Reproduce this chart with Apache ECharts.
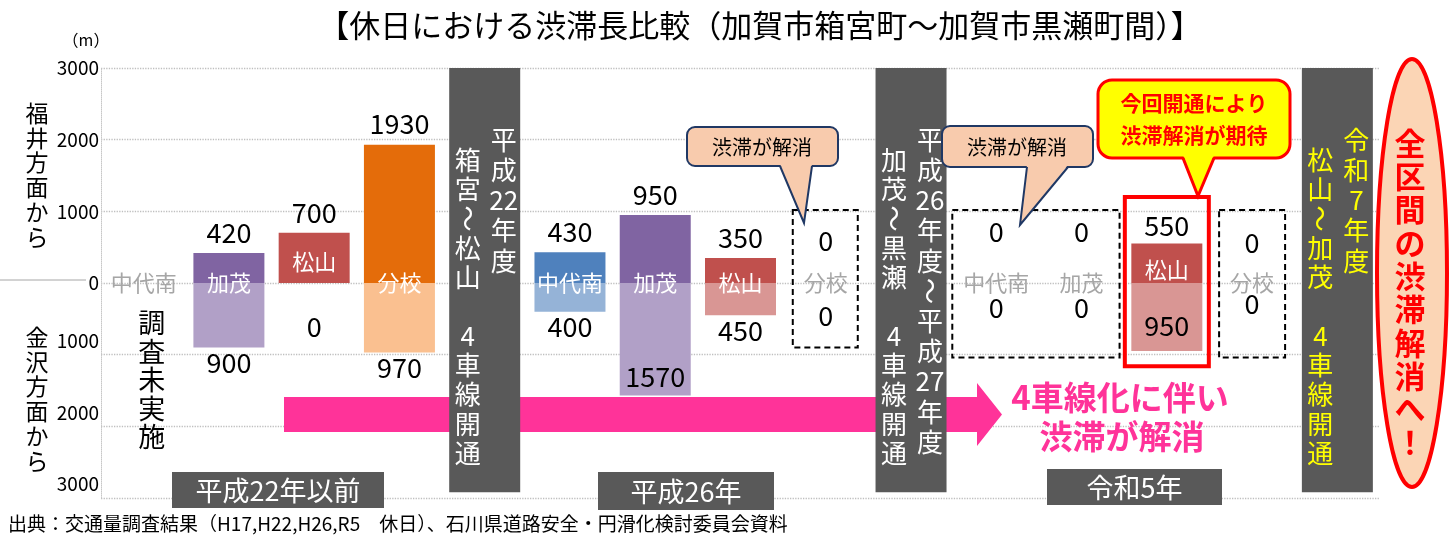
<!DOCTYPE html>
<html><head><meta charset="utf-8">
<script src="https://cdn.jsdelivr.net/npm/echarts@6/dist/echarts.min.js"></script>
<style>html,body{margin:0;padding:0;background:#fff}#c{width:1452px;height:540px}</style>
</head><body><div id="c"></div>
<script>
// ---- data ----
const periods = ['平成22年以前', '平成26年', '令和5年'];
const sites = ['中代南', '加茂', '松山', '分校'];
// 福井方面から (upwards), m
const fukuiH22 = [null, 420, 700, 1930];
const fukuiH26 = [430, 950, 350, 0];
const fukuiR5  = [0, 0, 550, 0];
// 金沢方面から (downwards), m
const kanazawaH22 = [null, 900, 0, 970];
const kanazawaH26 = [400, 1570, 450, 0];
const kanazawaR5  = [0, 0, 950, 0];
// 4車線開通 bands
const openingYears = ['平成22年度', '平成26年度～平成27年度', '令和7年度'];
const openingSections = ['箱宮～松山', '加茂～黒瀬', '松山～加茂'];
const openingNote = '4車線開通';
const yMax = 3000, yStep = 1000;
const bandTop = 3000, bandBottom = -2920;

const titleText = '【休日における渋滞長比較（加賀市箱宮町～加賀市黒瀬町間）】';
const footerText = '出典：交通量調査結果（H17,H22,H26,R5　休日）、石川県道路安全・円滑化検討委員会資料';

// ---- styles ----
const FONT = "'Noto Sans CJK JP','Noto Sans',sans-serif";
const upColors = ['#4F81BD', '#8064A2', '#C0504D', '#E46C0A'];
const downColors = ['#95B3D7', '#B1A0C7', '#D99694', '#FAC090'];
const BAND = '#595959';
const PINK = '#FF3399';
const upZeroGap = {8: 29, 10: 38, 11: 38, 13: 27};
const downZeroGap = {2: 30, 8: 19, 10: 11, 11: 11, 13: 7};
const downInside = {6: 5, 12: 12};
const upGap = {12: 4};
const nameShift = {2: -21, 12: -13};

const fukui = [fukuiH22, fukuiH26, fukuiR5];
const kanazawa = [kanazawaH22, kanazawaH26, kanazawaR5];

const cats = [], upData = [], downData = [], nameData = [], bandUpData = [], bandDownData = [], bandSlots = [];
periods.forEach((p, pi) => {
  sites.forEach((s, si) => {
    const idx = cats.length;
    cats.push(p + '／' + s);
    const u = fukui[pi][si], d = kanazawa[pi][si];
    if (u == null) upData.push('-');
    else upData.push({value: u, itemStyle: {color: upColors[si]},
      label: {position: 'top', distance: u === 0 ? upZeroGap[idx] : (upGap[idx] != null ? upGap[idx] : 7)}});
    if (d == null) downData.push('-');
    else downData.push({value: -d, itemStyle: {color: downColors[si]},
      label: downInside[idx] != null ? {position: 'insideBottom', distance: downInside[idx]}
                                    : {position: 'bottom', distance: d === 0 ? downZeroGap[idx] : 2}});
    const active = (u || 0) > 0 || (d || 0) > 0;
    nameData.push({value: 0, name: s, label: {color: active ? '#FFFFFF' : '#A6A6A6', offset: [0, nameShift[idx] || 0]}});
    bandUpData.push('-'); bandDownData.push('-');
  });
  bandSlots.push(cats.length);
  cats.push('開通' + (pi + 1));
  upData.push('-'); downData.push('-'); nameData.push('-');
  bandUpData.push(bandTop); bandDownData.push(bandBottom);
});

const numLabel = {show: true, color: '#000', fontSize: 27, fontFamily: FONT};
const chart = echarts.init(document.getElementById('c'));
chart.setOption({
  animation: false,
  backgroundColor: '#fff',
  grid: {left: 101, right: 72, top: 68, bottom: 42},
  xAxis: {type: 'category', data: cats, boundaryGap: true,
    axisLabel: {show: false}, axisTick: {show: false}, axisLine: {show: false}, splitLine: {show: false}},
  yAxis: {type: 'value', min: -yMax, max: yMax, interval: yStep,
    axisLine: {show: true, lineStyle: {color: '#C8C8C8', type: 'dotted'}},
    axisTick: {show: false},
    splitLine: {lineStyle: {color: '#BFBFBF', type: 'dotted', width: 1.3}},
    axisLabel: {formatter: v => v < 0 ? Math.abs(v) + '\n' : String(v), color: '#000', fontSize: 19,
      lineHeight: 28, margin: 2, fontFamily: FONT}},
  series: [
    {type: 'bar', name: '開通区間', data: bandUpData, barWidth: 71, barGap: '-100%', itemStyle: {color: BAND}, silent: true},
    {type: 'bar', name: '開通区間下', data: bandDownData, barWidth: 71, barGap: '-100%', itemStyle: {color: BAND}, silent: true},
    {type: 'bar', name: '福井方面から', data: upData, barWidth: 71, barGap: '-100%',
      label: Object.assign({}, numLabel, {formatter: p => String(p.value)})},
    {type: 'bar', name: '金沢方面から', data: downData, barWidth: 71, barGap: '-100%',
      label: Object.assign({}, numLabel, {formatter: p => String(Math.abs(p.value))})},
    {type: 'scatter', name: '地点', data: nameData, symbolSize: 0, z: 5, silent: true,
      itemStyle: {opacity: 1},
      label: {show: true, position: 'inside', formatter: p => p.name, fontSize: 22, fontFamily: FONT, opacity: 1}}
  ]
});

// ---- annotations ----
const X = i => chart.convertToPixel({gridIndex: 0}, [cats[i], 0])[0];
const Y = v => chart.convertToPixel({gridIndex: 0}, [cats[0], v])[1];

function T(x, y, text, style, z) {
  return {type: 'text', x, y, z: z || 30, silent: true,
    style: Object.assign({text, textAlign: 'center', textVerticalAlign: 'middle', align: 'center', verticalAlign: 'middle',
      fontFamily: FONT, fill: '#000'}, style)};
}
function vchars(x, yFirst, str, lh, style, z) {
  const toks = []; let buf = '';
  for (const ch of str) {
    if (/[0-9]/.test(ch)) buf += ch;
    else { if (buf) { toks.push(buf); buf = ''; } toks.push(ch); }
  }
  if (buf) toks.push(buf);
  return toks.map((t, i) => {
    const e = T(x, yFirst + i * lh, t, style, z);
    if (t === '～') e.rotation = -Math.PI / 2;
    return e;
  });
}
function box(x1, y1, x2, y2, style, z, r) {
  return {type: 'rect', z: z || 20, silent: true, shape: {x: x1, y: y1, width: x2 - x1, height: y2 - y1, r: r || 0}, style};
}
function callout(r, tail, fill, stroke, lw, radius, z) {
  return [
    box(r[0], r[1], r[2], r[3], {fill, stroke, lineWidth: lw}, z, radius),
    {type: 'polygon', z: z + 1, silent: true, shape: {points: [[tail[0], r[3] - lw], [tail[1], r[3] - lw], tail[2]]}, style: {fill}},
    {type: 'polyline', z: z + 2, silent: true, shape: {points: [[tail[0], r[3]], tail[2], [tail[1], r[3]]]}, style: {stroke, lineWidth: lw, fill: null}}
  ];
}

const els = [];
els.push(T(760, 25, titleText, {fontSize: 31}));
els.push(T(86, 40, '（m）', {fontSize: 16}));
els.push(...vchars(37, 113, '福井方面から', 24.8, {fontSize: 23}));
els.push(...vchars(37, 337, '金沢方面から', 24.8, {fontSize: 23}));
els.push({type: 'line', z: 1, silent: true, shape: {x1: 0, y1: Y(0) - 3, x2: 86, y2: Y(0) - 3}, style: {stroke: '#A6A6A6', lineWidth: 1}});
els.push(...vchars(X(0) + 8, 323, '調査未実施', 28.5, {fontSize: 27}));

// pink arrow
els.push({type: 'polygon', z: 1, silent: true,
  shape: {points: [[284, 397], [977, 397], [977, 383], [1002, 414.5], [977, 446], [977, 432], [284, 432]]},
  style: {fill: PINK}});
els.push(T(1120, 397, '4車線化に伴い', {fontSize: 33, fontWeight: 'bold', fill: PINK}));
els.push(T(1122, 436, '渋滞が解消', {fontSize: 33, fontWeight: 'bold', fill: PINK}));

// band texts
bandSlots.forEach((slot, i) => {
  const c = X(slot);
  const fill = i === 2 ? '#FFFF00' : '#fff';
  els.push(...vchars(c + 19, 140, openingYears[i], 30.2, {fontSize: 26, fill}));
  els.push(...vchars(c - 17, 160, openingSections[i] + ' ' + openingNote, 29.3, {fontSize: 26, fill}));
});

// dashed boxes
const dash = {fill: null, stroke: '#000', lineWidth: 2, lineDash: [6, 4]};
els.push(box(X(8) - 33, Y(1020), X(8) + 32, Y(-900), dash));
els.push(box(X(10) - 44, Y(1020), X(11) + 38, Y(-1040), dash));
els.push(box(X(13) - 33, Y(1020), X(13) + 33, Y(-1040), dash));
// red box
els.push(box(X(12) - 42, Y(1200), X(12) + 42, Y(-1160), {fill: null, stroke: '#FF0000', lineWidth: 4}));

// callouts
els.push(...callout([687, 127, 838, 166], [780, 812, [804, 223]], '#F8CBAD', '#203864', 2, 8, 40));
els.push(T(762, 147, '渋滞が解消', {fontSize: 20}, 45));
els.push(...callout([942, 126, 1093, 167], [1027, 1068, [1020, 225]], '#F8CBAD', '#203864', 2, 8, 40));
els.push(T(1017, 147, '渋滞が解消', {fontSize: 20}, 45));
els.push(...callout([1098, 80, 1290, 158], [1183, 1214, [1198, 196]], '#FFFF00', '#FF0000', 3, 14, 40));
els.push(T(1194, 103, '今回開通により', {fontSize: 21, fontWeight: 'bold', fill: '#FF0000'}, 45));
els.push(T(1194, 135, '渋滞解消が期待', {fontSize: 21, fontWeight: 'bold', fill: '#FF0000'}, 45));

// ellipse
els.push({type: 'ellipse', z: 20, silent: true, shape: {cx: 1412, cy: 273, rx: 35, ry: 214},
  style: {fill: '#FBD5B5', stroke: '#FF0000', lineWidth: 4}});
els.push(...vchars(1410, 143, '全区間の渋滞解消へ！', 33.3, {fontSize: 31, fontWeight: 'bold', fill: '#FF0000'}));

// period boxes
const periodBoxes = [[172, 472, 384, 508], [598, 472, 774, 510], [1047, 469, 1222, 505]];
periods.forEach((p, i) => {
  const b = periodBoxes[i];
  els.push(box(b[0], b[1], b[2], b[3], {fill: BAND}, 15));
  els.push(T((b[0] + b[2]) / 2, (b[1] + b[3]) / 2 + 1, p, {fontSize: 27, fill: '#fff'}));
});

// footer
els.push({type: 'text', x: 8, y: 524, z: 30, silent: true,
  style: {text: footerText, textAlign: 'left', align: 'left', textVerticalAlign: 'middle', verticalAlign: 'middle',
    fontFamily: FONT, fontSize: 19, fill: '#000'}});

chart.setOption({graphic: {elements: els}});
</script>
</body></html>
